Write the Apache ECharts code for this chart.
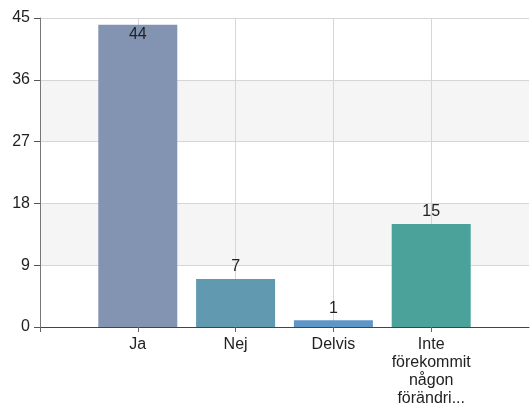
<!DOCTYPE html>
<html>
<head>
<meta charset="utf-8">
<script src="https://cdn.jsdelivr.net/npm/echarts@6/dist/echarts.min.js"></script>
<style>
  html, body { margin: 0; padding: 0; background: #fff; overflow: hidden; }
</style>
</head>
<body>
<div id="main" style="width:532px; height:408px;"></div>
<script>
// kategorier (tomma i kanterna så att staplarna hamnar på rätt plats)
var categories = ['', 'Ja', 'Nej', 'Delvis', 'Inte\nförekommit\nnågon\nförändri...', ''];
var values = ['-', 44, 7, 1, 15, '-'];
var colors = ['#8294b2', '#6099b0', '#5e96c8', '#4aa29a'];
var yTicks = [0, 9, 18, 27, 36, 45];

var chart = echarts.init(document.getElementById('main'));

var seriesData = values.map(function (v, i) {
  if (v === '-') return '-';
  var item = { value: v, itemStyle: { color: colors[i - 1] } };
  if (v === 44) item.label = { position: 'insideTop', distance: 2 };
  return item;
});

// sista kategorin ligger i kanten, ingen streck där
var notLast = function (idx) { return idx < categories.length - 1; };

chart.setOption({
  animation: false,
  textStyle: { fontFamily: 'Liberation Sans, Arial, sans-serif' },
  grid: { left: 40, right: -2, top: 18, bottom: 79 },
  xAxis: {
    type: 'category',
    data: categories,
    boundaryGap: false,
    axisLine: { lineStyle: { color: '#444', width: 1 } },
    axisTick: { show: true, length: 5, interval: notLast, lineStyle: { color: '#666' } },
    axisLabel: { color: '#222', fontSize: 16, lineHeight: 18, margin: 9, interval: 0 },
    splitLine: { show: true, interval: notLast, lineStyle: { color: '#d6d6d6' } }
  },
  yAxis: {
    type: 'value',
    min: yTicks[0],
    max: yTicks[yTicks.length - 1],
    interval: 9,
    axisLine: { show: true, lineStyle: { color: '#777' } },
    axisTick: { show: true, length: 6, lineStyle: { color: '#555' } },
    axisLabel: { color: '#222', fontSize: 16, margin: 10 },
    splitLine: { lineStyle: { color: '#d6d6d6' } },
    splitArea: { show: true, areaStyle: { color: ['#ffffff', '#f5f5f5'] } }
  },
  series: [{
    type: 'bar',
    data: seriesData,
    barWidth: 79,
    label: { show: true, position: 'top', color: '#222', fontSize: 16, distance: 4 }
  }]
});
</script>
</body>
</html>
